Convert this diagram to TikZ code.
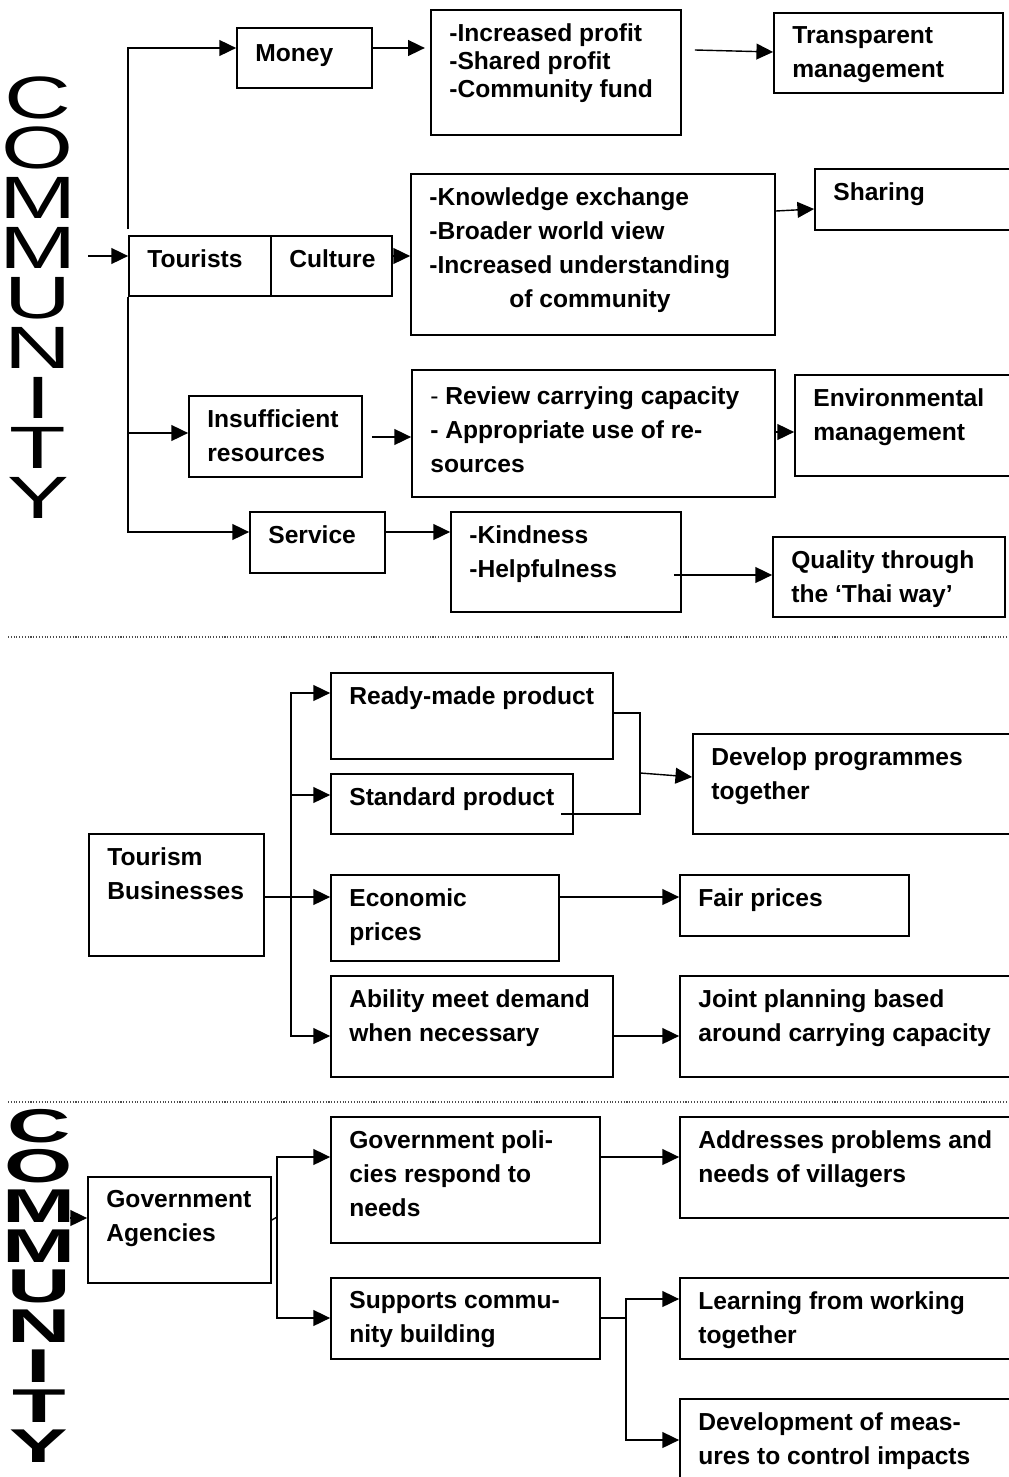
\documentclass[tikz,border=0pt]{standalone}
\usepackage{fontspec}
\setmainfont{Liberation Sans}
\usetikzlibrary{arrows.meta,fit}
% box: name, left, top, right, bottom, text (pixel units)
\newcommand{\flowbox}[7][]{%
  \node[boxframe, fit={(#3,#4) (#5,#6)}] (#2) {};
  \node[boxtext,#1] (#2-t) at (#3+18,#4+13) {#7};
}
\tikzset{
  boxframe/.style={draw, line width=1pt, inner sep=0pt},
  boxtext/.style={anchor=north west, inner sep=0pt, align=left,
    font=\fontsize{14}{19.4}\selectfont\bfseries},
  tightlines/.style={font=\fontsize{14}{15.9}\selectfont\bfseries},
  lower/.style={yshift=-2pt},
  arr/.style={line width=0.8pt, -{Triangle[length=9.5pt,width=9pt]}},
  ln/.style={line width=0.8pt},
  sepline/.style={densely dotted, line width=0.6pt, black!70},
  bigletter/.style={font=\fontsize{34}{34}\selectfont, inner sep=0pt, xscale=1.55,
    text height=24.5pt, text depth=0pt},
  smallletter/.style={font=\fontsize{27}{27}\selectfont\bfseries, inner sep=0pt, xscale=1.85,
    text height=19.5pt, text depth=0pt},
}
\begin{document}
\begin{tikzpicture}[x=0.02cm, y=-0.02cm]
\useasboundingbox (0,0) rectangle (1008,1477);
% COMMUNITY, written downwards
\foreach \ch [count=\i] in {C,O,M,M,U,N,I,T,Y}
  \node[bigletter] (ctop\i) at (38,46.5+50*\i) {\ch};
\foreach \ch [count=\i] in {C,O,M,M,U,N,I,T,Y}
  \node[smallletter] (cbot\i) at (39,1085+40*\i) {\ch};
\draw[sepline] (8,637) -- (1008,637);
\draw[sepline] (8,1102) -- (1008,1102);

% community
\flowbox[lower]{money}{237}{28}{372}{88}{Money}
\flowbox[tightlines]{profit}{431}{10}{681}{135}{-Increased profit\\-Shared profit\\-Community fund}
\flowbox{transp}{774}{13}{1003}{93}{Transparent\\management}
\flowbox{tour}{129}{236}{271}{296}{Tourists}
\flowbox{cult}{271}{236}{392}{296}{Culture}
\flowbox{know}{411}{174}{775}{335}{-Knowledge exchange\\-Broader world view\\-Increased understanding\\\hspace*{1.6cm}of community}
\flowbox{share}{815}{169}{1020}{230}{Sharing}
\flowbox{insuf}{189}{396}{362}{477}{Insufficient\\resources}
\flowbox[lower]{review}{412}{370}{775}{497}{{\mdseries -} Review carrying capacity\\- Appropriate use of re-\\sources}
\flowbox{env}{795}{375}{1020}{476}{Environmental\\management}
\flowbox{serv}{250}{512}{385}{573}{Service}
\flowbox{kind}{451}{512}{681}{612}{-Kindness\\-Helpfulness}
\flowbox{qual}{773}{537}{1005}{617}{Quality through\\the ‘Thai way’}

\coordinate (in1) at (88,256);
\draw[arr] (in1) -- (tour.west |- in1);
\draw[arr] (tour.north west) ++(0,-6) |- (money.west |- 0,48);
\draw[arr] (tour.south west) |- (insuf.west |- 0,433);
\draw[arr] (tour.south west) |- (serv.west |- 0,532);
\draw[arr, shorten >=3pt] (money.east |- 0,48) -- (profit.west |- 0,48);
\draw[arr] (profit.east |- 0,50) ++(13,0) -- (transp.west |- 0,52);
\draw[arr] (cult.east |- 0,256) -- (know.west |- 0,256);
\draw[arr] (know.east |- 0,211) -- (share.west |- 0,209);
\draw[arr] (insuf.east |- 0,437) ++(9,0) -- (review.west |- 0,437);
\draw[arr] (review.east |- 0,432) -- (env.west |- 0,432);
\draw[arr] (serv.east |- 0,532) -- (kind.west |- 0,532);
\draw[arr] (kind.east |- 0,575) ++(-8,0) -- (qual.west |- 0,575);

% tourism businesses
\flowbox{ready}{331}{673}{613}{759}{Ready-made product}
\flowbox{stand}{331}{774}{573}{834}{Standard product}
\flowbox{dev}{693}{734}{1020}{834}{Develop programmes\\together}
\flowbox{tourism}{89}{834}{264}{956}{Tourism\\Businesses}
\flowbox{econ}{331}{875}{559}{961}{Economic\\prices}
\flowbox{fair}{680}{875}{909}{936}{Fair prices}
\flowbox{abil}{331}{976}{613}{1077}{Ability meet demand\\when necessary}
\flowbox{joint}{680}{976}{1020}{1077}{Joint planning based\\around carrying capacity}

\coordinate (tb) at (291,897);
\draw[arr] (tourism.east |- tb) -- (econ.west |- tb);
\draw[arr] (tb) |- (ready.west |- 0,693);
\draw[arr] (tb) |- (stand.west |- 0,795);
\draw[arr] (tb) |- (abil.west |- 0,1036);
\coordinate (jn) at (640,773);
\draw[ln] (ready.east |- 0,713) -| (jn) -- (jn |- 0,814) -- (stand.east |- 0,814) -- ++(-13,0);
\draw[arr] (jn) -- (dev.west |- 0,777);
\draw[arr] (econ.east |- tb) -- (fair.west |- tb);
\draw[arr] (abil.east |- 0,1036) -- (joint.west |- 0,1036);

% government agencies
\flowbox{gov}{88}{1177}{271}{1283}{Government\\Agencies}
\flowbox{pol}{331}{1117}{600}{1243}{Government poli-\\cies respond to\\needs}
\flowbox{addr}{680}{1117}{1020}{1218}{Addresses problems and\\needs of villagers}
\flowbox{supp}{331}{1278}{600}{1359}{Supports commu-\\nity building}
\flowbox{learn}{680}{1278}{1020}{1359}{Learning from working\\together}
\flowbox{devm}{680}{1399}{1020}{1500}{Development of meas-\\ures to control impacts}

\coordinate (in2) at (70,1218);
\draw[arr] (in2) -- (gov.west |- in2);
\coordinate (gb) at (277,1217);
\draw[ln] (gov.east |- 0,1220) -- (gb);
\draw[arr] (gb) |- (pol.west |- 0,1157);
\draw[arr] (gb) |- (supp.west |- 0,1318);
\draw[arr] (pol.east |- 0,1157) -- (addr.west |- 0,1157);
\coordinate (sb) at (626,1318);
\draw[ln] (supp.east |- sb) -- (sb);
\draw[arr] (sb) |- (learn.west |- 0,1299);
\draw[arr] (sb) |- (devm.west |- 0,1440);
\end{tikzpicture}
\end{document}
